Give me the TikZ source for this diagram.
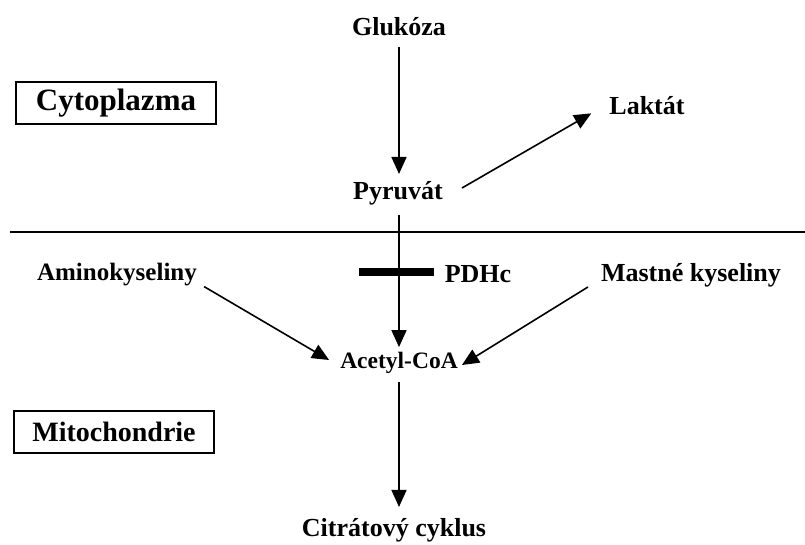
\documentclass[tikz,border=0pt]{standalone}
\usepackage{fontspec}
\setmainfont{Liberation Serif}
\usetikzlibrary{arrows.meta,positioning}

\tikzset{
  lbl/.style={font=\fontsize{26}{31}\selectfont\bfseries, inner sep=2pt},
  regionbox/.style={draw, line width=1.2pt, font=\fontsize{31}{37}\selectfont\bfseries,
    minimum width=200pt, minimum height=42pt, inner sep=0pt},
  pfeil/.style={-{Triangle[length=17pt,width=15pt]}, line width=1.6pt}
}

\begin{document}
\begin{tikzpicture}[x=1pt,y=-1pt]
\useasboundingbox (0,0) rectangle (805,544);

% metabolites
\node[lbl] (glukoza) at (399,27) {Glukóza};
\node[lbl] (pyruvat) at (398,193) {Pyruvát};
\node[lbl] (laktat) at (647,106) {Laktát};
\node[lbl, font=\fontsize{25}{30}\selectfont\bfseries] (amino) at (117,275) {Aminokyseliny};
\node[lbl] (mastne) at (691,275) {Mastné kyseliny};
\node[lbl, font=\fontsize{23.5}{28}\selectfont\bfseries] (acetyl) at (399,363) {Acetyl-CoA};
\node[lbl] (citrat) at (394,530) {Citrátový cyklus};
\node[lbl] (pdhc) at (478,274) {PDHc};

% compartments
\node[regionbox] (cyto) at (116,103) {Cytoplazma};
\node[regionbox, font=\fontsize{28}{34}\selectfont\bfseries] (mito) at (114,432) {Mitochondrie};

% membrane
\draw[line width=1.2pt] (10,232) -- (805,232);

% pathways
\draw[pfeil] ([yshift=-9pt]glukoza.south) -- ([yshift=5pt]glukoza.south |- pyruvat.north);
\draw[pfeil] ([xshift=17pt,yshift=5pt]pyruvat.east) -- ([xshift=-16pt,yshift=4pt]laktat.south west);
\draw[pfeil] ([yshift=-8pt]glukoza.south |- pyruvat.south) -- ([yshift=3pt]glukoza.south |- acetyl.north);
\draw[pfeil] ([xshift=5pt,yshift=2pt]amino.south east) -- ([xshift=-9pt,yshift=3pt]acetyl.west);
\draw[pfeil] ([xshift=-11pt,yshift=2pt]mastne.south west) -- ([xshift=2pt,yshift=-2pt]acetyl.east);
\draw[pfeil] ([yshift=-6pt]glukoza.south |- acetyl.south) -- ([yshift=9pt]glukoza.south |- citrat.north);

% enzyme block
\draw[line width=8pt] (359,272) -- (434,272);
\end{tikzpicture}
\end{document}
